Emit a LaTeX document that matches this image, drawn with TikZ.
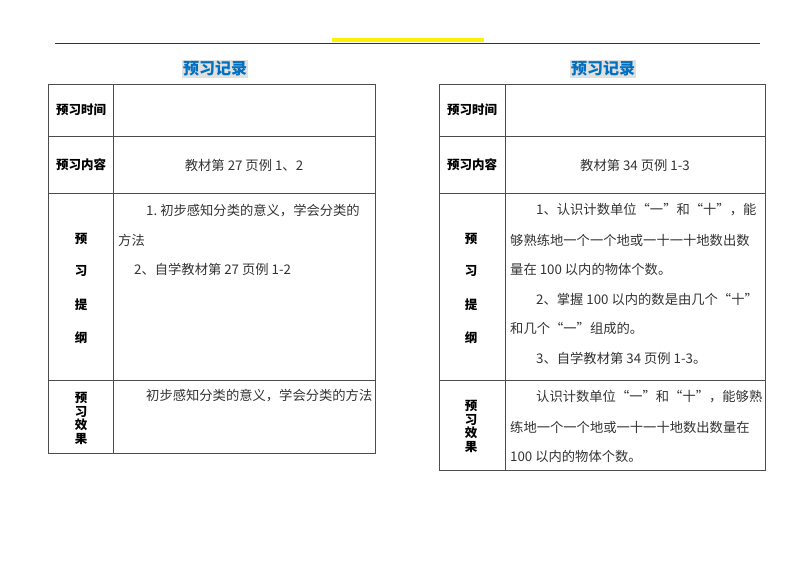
\documentclass[tikz,border=0pt]{standalone}
\usepackage{fontspec}
\setmainfont{Noto Sans CJK SC}
\definecolor{ttlblue}{RGB}{0,112,192}
\begin{document}
\begin{tikzpicture}[x=1pt,y=-1pt,
  grid/.style={draw=black!70,line width=0.8pt},
  lab/.style={font=\fontsize{12.5}{12.5}\selectfont\bfseries,inner sep=0},
  body/.style={font=\fontsize{13.3}{13.3}\selectfont,inner sep=0,anchor=west,text=black!80},
  ttl/.style={font=\fontsize{16}{16}\selectfont\bfseries,text=ttlblue,fill=black!12,inner sep=1pt}]
\useasboundingbox (0,0) rectangle (800,566);
\draw[black!80,line width=0.8pt] (55,43) -- (760,43);
\fill[yellow] (332,38) rectangle (484,42);
% left table
\node[ttl] (t1) at (215,69) {预习记录};
\draw[grid] (48,84) rectangle (375,453);
\draw[grid] (113,84) -- (113,453);
\foreach \y in {136,193,380} \draw[grid] (48,\y) -- (375,\y);
\node[lab] (a1) at (81,110) {预习时间};
\node[lab] (a2) at (81,165) {预习内容};
\node[body,anchor=center] (a3) at (244,165) {教材第 27 页例 1、2};
\foreach \c/\y in {预/239,习/271,提/305,纲/338} \node[lab] at (81,\y) {\c};
\node[body] (a4) at (146,211) {1.\ 初步感知分类的意义，学会分类的};
\node[body] (a5) at (118,240) {方法};
\node[body] (a6) at (134,269) {2、自学教材第 27 页例 1-2};
\foreach \c/\y in {预/398,习/412,效/425,果/439} \node[lab] at (81,\y) {\c};
\node[body] (a7) at (146,396) {初步感知分类的意义，学会分类的方法};
% right table
\node[ttl] (t2) at (603,69) {预习记录};
\draw[grid] (439,84) rectangle (765,470);
\draw[grid] (505,84) -- (505,470);
\foreach \y in {136,193,380} \draw[grid] (439,\y) -- (765,\y);
\node[lab] (b1) at (472,110) {预习时间};
\node[lab] (b2) at (472,165) {预习内容};
\node[body,anchor=center] (b3) at (635,165) {教材第 34 页例 1-3};
\foreach \c/\y in {预/239,习/271,提/305,纲/338} \node[lab] at (471,\y) {\c};
\node[body] (b4) at (536,210) {1、认识计数单位“一”和“十”，能};
\node[body] (b5) at (510,240) {够熟练地一个一个地或一十一十地数出数};
\node[body] (b6) at (510,269) {量在 100 以内的物体个数。};
\node[body] (b7) at (536,299) {2、掌握 100 以内的数是由几个“十”};
\node[body] (b8) at (510,328) {和几个“一”组成的。};
\node[body] (b9) at (536,358) {3、自学教材第 34 页例 1-3。};
\foreach \c/\y in {预/406,习/420,效/433,果/447} \node[lab] at (471,\y) {\c};
\node[body] (b10) at (536,397) {认识计数单位“一”和“十”，能够熟};
\node[body] (b11) at (510,427) {练地一个一个地或一十一十地数出数量在};
\node[body] (b12) at (510,456) {100 以内的物体个数。};
\end{tikzpicture}
\end{document}
